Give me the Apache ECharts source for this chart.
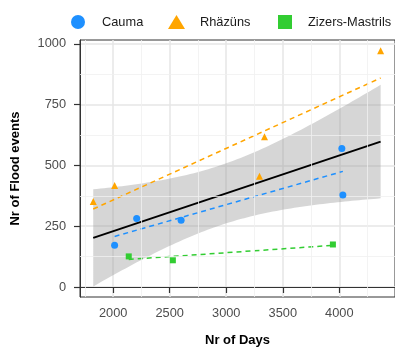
<!DOCTYPE html>
<html><head><meta charset="utf-8">
<script src="https://cdn.jsdelivr.net/npm/echarts@6/dist/echarts.min.js"></script>
<style>html,body{margin:0;padding:0;background:#fff}#c{width:395px;height:354px}</style>
</head><body><div id="c"></div>
<script>
// ---- data ----
const groupNames = ['Cauma', 'Rhäzüns', 'Zizers-Mastrils'];
const caumaDays = [2013, 2208, 2601, 4022, 4031];
const caumaFloods = [172, 282, 275, 570, 379];
const rhazunsDays = [1824, 2013, 3294, 3338, 4365];
const rhazunsFloods = [352, 418, 456, 618, 972];
const zizersDays = [2138, 2528, 3943];
const zizersFloods = [126, 110, 175];
const xTicks = [2000, 2500, 3000, 3500, 4000];
const yTicks = [0, 250, 500, 750, 1000];
const xMinor = [1750, 2250, 2750, 3250, 3750, 4250];
const yMinor = [125, 375, 625, 875];

const colors = ['#1e90ff', '#ffa500', '#32cd32'];
const FONT = 'Liberation Sans, Arial, Helvetica, sans-serif';

// ---- linear fit helpers (lm, like geom_smooth) ----
function fit(xs, ys) {
  const n = xs.length;
  const mx = xs.reduce((a, b) => a + b, 0) / n;
  const my = ys.reduce((a, b) => a + b, 0) / n;
  let sxx = 0, sxy = 0;
  for (let i = 0; i < n; i++) { sxx += (xs[i] - mx) ** 2; sxy += (xs[i] - mx) * (ys[i] - my); }
  const b = sxy / sxx, a = my - b * mx;
  let sse = 0;
  for (let i = 0; i < n; i++) sse += (ys[i] - (a + b * xs[i])) ** 2;
  return { n, mx, sxx, a, b, s2: sse / (n - 2), xmin: Math.min(...xs), xmax: Math.max(...xs) };
}
function fitLine(f) { return [[f.xmin, f.a + f.b * f.xmin], [f.xmax, f.a + f.b * f.xmax]]; }

const allDays = caumaDays.concat(rhazunsDays, zizersDays);
const allFloods = caumaFloods.concat(rhazunsFloods, zizersFloods);
const fAll = fit(allDays, allFloods);
const T975 = 2.200985; // t quantile, df = 11
const band = [];
const NB = 80;
for (let i = 0; i <= NB; i++) {
  const x = fAll.xmin + (fAll.xmax - fAll.xmin) * i / NB;
  const yh = fAll.a + fAll.b * x;
  const se = Math.sqrt(fAll.s2 * (1 / fAll.n + (x - fAll.mx) ** 2 / fAll.sxx));
  band.push([x, yh - T975 * se, yh + T975 * se]);
}

function zip(xs, ys) { return xs.map((x, i) => [x, ys[i]]); }

const dashedStyle = (c) => ({ color: c, width: 1.5, type: [5, 4] });
const plain = (v) => String(v);

const chart = echarts.init(document.getElementById('c'), null, { renderer: 'canvas' });
const legendBase = {
  top: 10, orient: 'horizontal', selectedMode: false,
  textStyle: { fontFamily: FONT, fontSize: 12.8, color: '#1a1a1a' }
};
chart.setOption({
  animation: false,
  textStyle: { fontFamily: FONT },
  legend: [
    Object.assign({}, legendBase, { left: 66, data: [{ name: groupNames[0], icon: 'circle' }], itemWidth: 14, itemHeight: 14,
      textStyle: Object.assign({}, legendBase.textStyle, { padding: [0, 0, 0, 12] }) }),
    Object.assign({}, legendBase, { left: 163, data: [{ name: groupNames[1], icon: 'triangle' }], itemWidth: 17, itemHeight: 14,
      textStyle: Object.assign({}, legendBase.textStyle, { padding: [0, 0, 0, 10] }) }),
    Object.assign({}, legendBase, { left: 273, data: [{ name: groupNames[2], icon: 'rect' }], itemWidth: 14, itemHeight: 14,
      textStyle: Object.assign({}, legendBase.textStyle, { padding: [0, 0, 0, 11] }) })
  ],
  grid: { left: 80, top: 40, right: -5, bottom: 57, show: true, borderColor: '#333', borderWidth: 1, backgroundColor: '#fff', containLabel: false },
  xAxis: {
    type: 'value', min: 1707, max: 4492,
    name: 'Nr of Days', nameLocation: 'middle', nameGap: 37,
    nameTextStyle: { fontFamily: FONT, fontSize: 13, fontWeight: 'bold', color: '#000' },
    axisLine: { show: true, lineStyle: { color: '#333', width: 1 } },
    axisTick: { show: true, customValues: xTicks, length: 6, lineStyle: { color: '#333', width: 1.2 } },
    axisLabel: { customValues: xTicks, formatter: plain, color: '#4d4d4d', fontSize: 12.8, fontFamily: FONT, margin: 10 },
    splitLine: { show: true, lineStyle: { color: '#e6e6e6', width: 1.5 } }
  },
  yAxis: {
    type: 'value', min: -41, max: 1016,
    name: 'Nr of Flood events', nameLocation: 'middle', nameGap: 58, nameRotate: 90,
    nameTextStyle: { fontFamily: FONT, fontSize: 13, fontWeight: 'bold', color: '#000' },
    axisLine: { show: true, lineStyle: { color: '#333', width: 1 } },
    axisTick: { show: true, customValues: yTicks, length: 6, lineStyle: { color: '#333', width: 1.2 } },
    axisLabel: { customValues: yTicks, formatter: plain, color: '#4d4d4d', fontSize: 12.8, fontFamily: FONT, margin: 14 },
    splitLine: { show: true, lineStyle: { color: '#e6e6e6', width: 1.5 } }
  },
  series: [
    { // minor grid lines
      type: 'scatter', name: '_minor', data: [], z: 0, silent: true, symbolSize: 0,
      markLine: {
        silent: true, symbol: 'none', label: { show: false }, animation: false,
        lineStyle: { color: '#f0f0f0', width: 0.8, type: 'solid' },
        data: xMinor.map(v => ({ xAxis: v })).concat(yMinor.map(v => ({ yAxis: v })))
      }
    },
    { // confidence band
      type: 'custom', name: '_band', z: 1, silent: true,
      data: band,
      encode: { x: 0, y: [1, 2] },
      renderItem: function (params, api) {
        if (params.dataIndex !== 0) return null;
        const pts = [];
        for (let i = 0; i < band.length; i++) pts.push(api.coord([band[i][0], band[i][2]]));
        for (let i = band.length - 1; i >= 0; i--) pts.push(api.coord([band[i][0], band[i][1]]));
        return { type: 'polygon', shape: { points: pts }, style: { fill: 'rgba(153,153,153,0.4)', stroke: null } };
      }
    },
    { type: 'line', name: '_fitC', data: fitLine(fit(caumaDays, caumaFloods)), symbol: 'none', z: 3, lineStyle: dashedStyle(colors[0]), silent: true },
    { type: 'line', name: '_fitR', data: fitLine(fit(rhazunsDays, rhazunsFloods)), symbol: 'none', z: 3, lineStyle: dashedStyle(colors[1]), silent: true },
    { type: 'line', name: '_fitZ', data: fitLine(fit(zizersDays, zizersFloods)), symbol: 'none', z: 3, lineStyle: dashedStyle(colors[2]), silent: true },
    { type: 'line', name: '_fitAll', data: fitLine(fAll), symbol: 'none', z: 4, lineStyle: { color: '#000', width: 2 }, silent: true },
    { type: 'scatter', name: groupNames[0], data: zip(caumaDays, caumaFloods), symbol: 'circle', symbolSize: 7, itemStyle: { color: colors[0], opacity: 1 }, z: 5 },
    { type: 'scatter', name: groupNames[1], data: zip(rhazunsDays, rhazunsFloods), symbol: 'triangle', symbolSize: 7, itemStyle: { color: colors[1], opacity: 1 }, z: 5 },
    { type: 'scatter', name: groupNames[2], data: zip(zizersDays, zizersFloods), symbol: 'rect', symbolSize: 6, itemStyle: { color: colors[2], opacity: 1 }, z: 5 }
  ]
});
</script>
</body></html>
